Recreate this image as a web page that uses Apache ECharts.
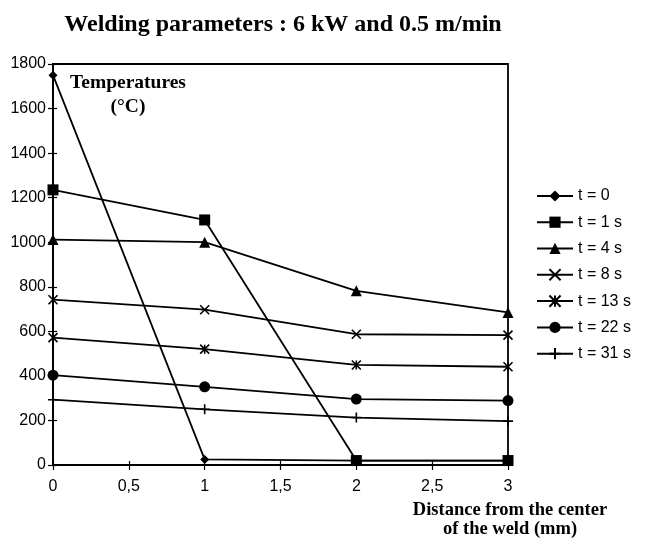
<!DOCTYPE html>
<html>
<head>
<meta charset="utf-8">
<script src="https://cdn.jsdelivr.net/npm/echarts@6/dist/echarts.min.js"></script>
<style>html,body{margin:0;padding:0;background:#fff}#c{width:645px;height:540px}</style>
</head>
<body>
<div id="c"></div>
<script>
var distances = [0, 1, 2, 3];
var seriesNames = ['t = 0', 't = 1 s', 't = 4 s', 't = 8 s', 't = 13 s', 't = 22 s', 't = 31 s'];
var t0 = [1750, 25, 20, 20];
var t1 = [1235, 1100, 20, 20];
var t4 = [1012, 1000, 782, 685];
var t8 = [742, 697, 587, 583];
var t13 = [572, 520, 449, 441];
var t22 = [403, 351, 296, 289];
var t31 = [293, 250, 213, 197];
var yTicks = [0, 200, 400, 600, 800, 1000, 1200, 1400, 1600, 1800];
var xTicks = [0, 0.5, 1, 1.5, 2, 2.5, 3];

var allValues = [t0, t1, t4, t8, t13, t22, t31];
var symbols = [
  ['diamond', 9, true],
  ['rect', 11, true],
  ['triangle', 11, true],
  ['path://M0 0 L10 10 M10 0 L0 10', 9, false],
  ['path://M0 0 L10 10 M10 0 L0 10 M5 0 L5 10', 9, false],
  ['circle', 11, true],
  ['path://M0 5 L10 5 M5 0 L5 10', 10, false]
];

var series = allValues.map(function (vals, i) {
  var s = symbols[i];
  return {
    name: seriesNames[i],
    type: 'line',
    data: distances.map(function (x, j) { return [x, vals[j]]; }),
    symbol: s[0],
    symbolSize: s[1],
    showAllSymbol: true,
    lineStyle: { color: '#000', width: 1.8 },
    itemStyle: s[2] ? { color: '#000', borderColor: '#000', borderWidth: 0 }
                    : { color: 'none', borderColor: '#000', borderWidth: 1.6 },
    emphasis: { disabled: true },
    animation: false,
    z: 10 - i
  };
});

var labelFont = { color: '#000', fontFamily: 'Liberation Sans', fontSize: 16 };

var chart = echarts.init(document.getElementById('c'), null, { renderer: 'canvas' });
chart.setOption({
  backgroundColor: '#fff',
  animation: false,
  title: {
    text: 'Welding parameters : 6 kW and 0.5 m/min',
    left: 278, top: 8, textAlign: 'center',
    textStyle: { fontFamily: 'Liberation Serif', fontWeight: 'bold', fontSize: 24, color: '#000' }
  },
  grid: { left: 53, right: 137, top: 64, bottom: 75, show: true, borderColor: '#000', borderWidth: 1.8, backgroundColor: 'transparent' },
  legend: {
    orient: 'vertical', left: 531, top: 183,
    itemWidth: 36, itemHeight: 14, itemGap: 10.2,
    data: seriesNames,
    textStyle: { fontFamily: 'Liberation Sans', fontSize: 16, color: '#000' },
    selectedMode: false
  },
  xAxis: [{
    type: 'value', min: 0, max: 3, interval: 0.5,
    axisLine: { show: true, lineStyle: { color: '#000', width: 1.8 } },
    axisTick: { show: true, length: 5, lineStyle: { color: '#000', width: 1.2 } },
    splitLine: { show: false },
    axisLabel: Object.assign({ margin: 14,
      formatter: function (v) { return String(v).replace('.', ','); } }, labelFont)
  }, {
    type: 'value', min: 0, max: 3, interval: 0.5, position: 'bottom',
    axisLine: { show: false },
    axisTick: { show: true, inside: true, length: 4, lineStyle: { color: '#000', width: 1.2 } },
    splitLine: { show: false },
    axisLabel: { show: false }
  }],
  yAxis: [{
    type: 'value', min: 0, max: 1800, interval: 200,
    axisLine: { show: true, lineStyle: { color: '#000', width: 1.8 } },
    axisTick: { show: true, length: 5, lineStyle: { color: '#000', width: 1.2 } },
    splitLine: { show: false },
    axisLabel: Object.assign({ margin: 7, formatter: function (v) { return String(v); } }, labelFont)
  }, {
    type: 'value', min: 0, max: 1800, interval: 200, position: 'left',
    axisLine: { show: false },
    axisTick: { show: true, inside: true, length: 4, lineStyle: { color: '#000', width: 1.2 } },
    splitLine: { show: false },
    axisLabel: { show: false }
  }],
  graphic: [
    { type: 'text', x: 128, y: 71, z: 20, style: { text: 'Temperatures\n(°C)', align: 'center', lineHeight: 24,
      font: 'bold 19.5px "Liberation Serif"', fill: '#000' } },
    { type: 'text', x: 510, y: 501, z: 20, style: { text: 'Distance from the center\nof the weld (mm)', align: 'center', lineHeight: 19,
      font: 'bold 18.5px "Liberation Serif"', fill: '#000' } }
  ],
  series: series
});
</script>
</body>
</html>
